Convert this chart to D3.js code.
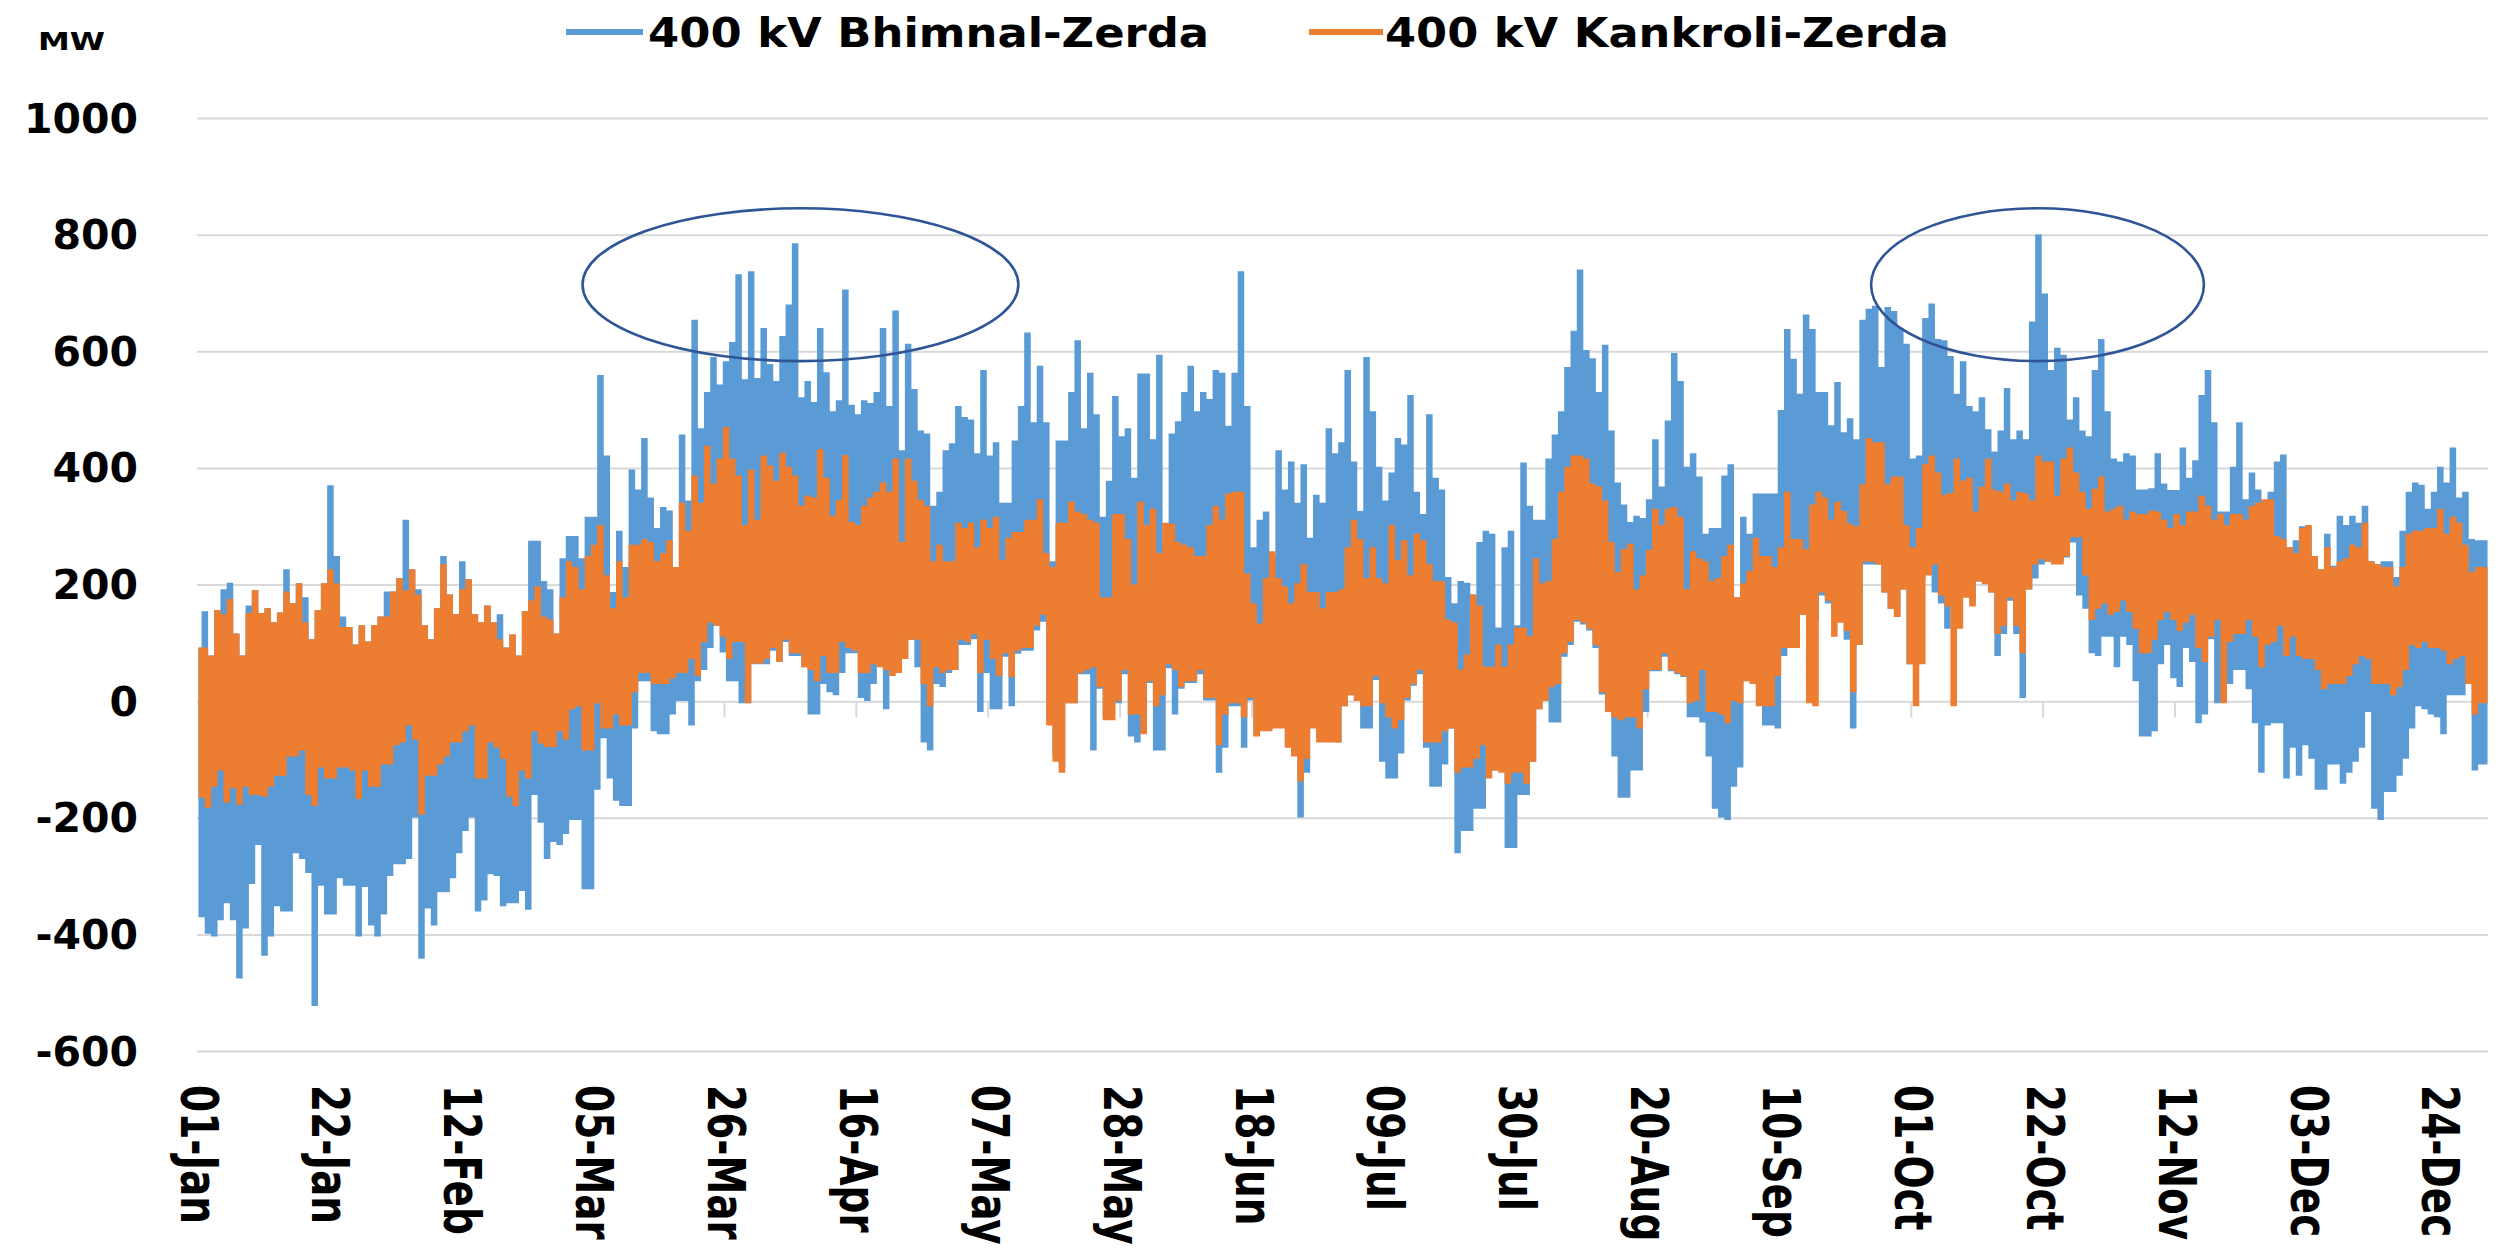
<!DOCTYPE html>
<html>
<head>
<meta charset="utf-8">
<script src="https://cdn.jsdelivr.net/npm/d3@7"></script>
<style>
  html, body { margin: 0; padding: 0; background: #ffffff; }
  svg { display: block; }
</style>
</head>
<body>
<svg id="chart" width="2509" height="1253"></svg>
<script>
// ---------------- DATA (daily high / low envelopes, MW) ----------------
const seriesNames = ["400 kV Bhimnal-Zerda", "400 kV Kankroli-Zerda"];
const yTicks = [-600, -400, -200, 0, 200, 400, 600, 800, 1000];
const xTickDays = [0, 21, 42, 63, 84, 105, 126, 147, 168, 189, 210, 231, 252, 273, 294, 315, 336, 357];
const xTickLabels = ["01-Jan", "22-Jan", "12-Feb", "05-Mar", "26-Mar", "16-Apr", "07-May", "28-May", "18-Jun",
  "09-Jul", "30-Jul", "20-Aug", "10-Sep", "01-Oct", "22-Oct", "12-Nov", "03-Dec", "24-Dec"];

const bhimnalHigh = [
  90,152,76,154,190,201,114,76,162,188, 149,157,133,150,224,166,200,176,104,154,
  200,368,247,143,125,95,128,100,128,143, 186,186,209,309,224,190,128,104,157,247,
  181,147,238,207,147,133,162,133,147,90, 112,76,152,273,273,204,190,114,243,281,
  281,243,314,314,557,419,185,290,228,395, 361,449,347,295,331,325,228,455,342,652,
  466,528,588,541,581,614,730,550,735,552, 638,576,547,624,678,783,519,547,511,638,
  562,495,514,704,506,490,514,509,528,638, 504,668,428,611,533,462,457,333,357,428,
  440,504,485,481,423,566,419,442,338,338, 445,504,630,476,573,476,238,445,445,528,
  617,466,561,490,314,376,521,452,466,381, 560,560,447,592,271,457,478,528,573,495,
  528,516,566,561,470,561,735,504,262,309, 323,247,428,361,409,338,404,278,352,338,
  466,423,442,566,409,324,588,495,400,342, 390,449,438,523,357,319,490,381,361,211,
  166,204,201,181,271,290,285,124,262,290, 128,407,333,309,309,414,455,495,571,633,
  738,600,586,528,609,462,373,335,305,316, 312,344,447,366,479,595,547,400,423,383,
  285,295,295,385,404,176,314,285,354,354, 354,354,497,636,585,525,661,636,528,528,
  471,545,459,483,447,652,671,676,571,674, 667,638,611,414,419,655,680,619,617,590,
  525,581,504,495,519,464,426,462,535,447, 462,447,649,798,697,566,604,592,481,519,
  462,452,566,619,495,414,409,423,419,361, 361,363,423,371,360,360,433,381,411,523,
  566,476,323,323,400,476,344,390,361,342, 357,409,421,262,274,298,298,247,224,285,
  230,316,300,316,304,333,238,228,238,238, 211,290,357,373,369,328,357,400,373,433,
  347,357,276,274,274
];
const bhimnalLow = [
  -367,-395,-400,-372,-343,-372,-472,-386,-310,-243, -433,-400,-348,-357,-357,-257,-267,-291,-519,-313,
  -362,-362,-300,-313,-313,-400,-315,-381,-400,-362, -296,-276,-276,-267,-196,-438,-352,-381,-324,-324,
  -300,-257,-219,-196,-357,-338,-293,-296,-348,-343, -343,-322,-354,-157,-205,-267,-238,-243,-224,-200,
  -200,-319,-319,-148,-60,-129,-167,-176,-176,-43, 38,38,-48,-53,-53,-19,4,4,-38,38,
  57,95,133,87,38,38,0,0,67,67, 67,90,71,105,81,81,62,-19,-19,33,
  19,14,52,86,86,9,4,33,67,-10, 57,52,76,109,62,-67,-81,33,28,52,
  57,100,100,110,-15,52,-10,-10,80,-5, 85,90,90,125,140,-30,-90,-110,0,0,
  50,50,-81,25,-25,24,0,50,-57,-67, -50,35,-81,-81,60,-19,25,35,35,50,
  5,5,-119,-76,-5,-5,-76,5,-55,-45, -45,-40,-40,-70,-85,-196,-119,-33,-60,-60,
  -60,-67,-5,14,4,-43,-43,40,-100,-129, -129,-86,5,30,50,-76,-143,-143,-105,-43,
  -257,-219,-219,-181,-181,-115,-115,-115,-248,-248, -157,-157,-100,-10,4,-33,-33,80,100,140,
  135,125,95,15,-15,-91,-162,-162,-115,-115, -15,55,55,80,55,50,45,-24,-24,-33,
  -91,-181,-196,-200,-143,-110,38,43,33,-38, -38,-43,81,95,95,152,143,143,185,171,
  162,143,109,-43,100,238,238,238,190,162, 148,195,67,171,214,238,190,171,128,176,
  209,204,171,209,209,190,81,119,176,119, 9,195,214,238,243,243,243,250,276,185,
  162,86,81,114,114,62,114,100,38,-57, -57,-48,67,100,43,28,95,71,-34,-19,
  110,0,4,33,57,57,24,-34,-119,-38, -34,-34,-129,-76,-124,-72,-95,-148,-148,-105,
  -105,-138,-119,-100,-76,-15,-181,-200,-152,-152, -124,-95,-43,-5,-10,-19,-24,-53,14,14,
  14,33,-115,-105,-105
];
const kankroliHigh = [
  90,90,76,154,147,173,114,76,149,188, 149,157,133,150,186,166,200,133,104,154,
  200,224,200,125,125,95,128,100,128,143, 143,186,209,188,224,181,128,104,157,233,
  181,147,190,207,147,133,162,133,104,90, 112,76,152,171,195,143,138,114,176,238,
  228,190,247,266,300,214,157,238,176,266, 266,276,271,238,252,274,228,338,290,385,
  338,436,371,414,468,414,385,300,395,309, 419,402,376,424,400,385,333,350,347,430,
  381,316,343,420,305,300,333,347,357,373, 357,414,271,414,376,343,333,238,266,238,
  238,304,295,304,262,309,295,314,240,278, 288,288,309,309,344,252,228,304,304,340,
  323,319,309,304,176,176,319,319,276,198, 340,300,328,252,304,302,271,266,262,247,
  247,300,333,309,354,357,357,217,166,131, 209,255,209,195,166,200,233,185,185,157,
  185,185,190,262,309,276,209,262,209,200, 300,240,274,214,285,274,233,204,204,138,
  133,52,78,181,162,57,57,95,57,95, 124,124,109,243,200,204,276,357,400,419,
  419,414,371,366,342,271,219,259,268,190, 214,257,328,300,328,331,314,190,255,243,
  238,204,209,247,266,176,200,221,278,247, 247,228,262,357,276,276,259,335,357,347,
  309,340,324,302,298,370,449,442,442,370, 383,383,300,262,295,404,419,390,352,355,
  414,376,381,323,366,414,361,357,371,342, 357,354,342,419,409,409,350,414,433,390,
  357,328,362,383,323,328,333,309,323,319, 319,325,323,309,295,319,300,323,323,350,
  333,309,319,300,319,319,309,333,338,344, 344,281,276,262,252,295,300,247,224,262,
  228,238,243,266,262,304,238,233,228,228, 195,228,285,290,290,295,295,328,285,314,
  304,266,219,228,228
];
const kankroliLow = [
  -162,-179,-143,-115,-170,-145,-174,-143,-157,-157, -160,-143,-124,-124,-91,-91,-81,-157,-176,-110,
  -129,-129,-110,-110,-115,-164,-115,-143,-143,-105, -105,-72,-67,-38,-62,-191,-124,-124,-105,-91,
  -67,-67,-48,-38,-129,-129,-67,-76,-95,-160, -176,-115,-129,-48,-69,-75,-75,-48,-62,-10,
  -5,-81,-81,0,-43,-43,-19,-38,-38,19, 52,52,33,33,33,43,52,52,76,47,
  105,138,133,114,76,105,105,0,68,68, 76,95,71,109,86,86,62,57,38,81,
  52,52,105,95,90,52,52,67,62,57, 47,52,76,109,109,33,-5,62,52,57,
  57,109,105,119,52,109,76,47,86,45, 90,95,95,133,152,-38,-100,-119,0,0,
  52,57,62,28,-29,-29,4,57,-19,-19, -53,38,-5,14,67,57,28,38,38,57,
  9,9,-72,-19,0,0,-24,9,-57,-48, -48,-43,-43,-76,-91,-134,-95,-43,-67,-67,
  -67,-67,-5,14,4,-5,-5,47,0,-24, -43,-29,9,33,57,-67,-67,-67,-48,-43,
  -119,-110,-110,-95,-72,-129,-115,-119,-138,-119, -119,-138,-100,-10,4,28,33,86,105,143,
  138,128,100,19,-15,-24,-29,-24,-24,-43, 24,57,57,86,57,52,47,0,4,57,
  -15,-15,-19,-34,4,0,38,33,-5,-5, -5,47,95,95,95,152,0,-5,190,176,
  114,138,124,19,100,243,243,238,190,162, 148,195,67,-5,67,219,238,185,166,-5,
  128,181,166,209,204,190,119,133,181,133, 86,195,238,247,243,238,238,252,285,285,
  219,143,162,171,152,157,176,157,128,86, 86,109,143,157,143,124,138,152,95,71,
  114,143,0,105,119,119,143,114,62,100, 105,133,81,114,81,76,76,57,24,33,
  33,33,47,67,81,76,33,33,33,14, 28,57,100,95,105,95,95,90,67,76,
  81,33,-19,0,0
];
// highlighted periods (annotation ellipses, in day / MW units)
const highlightDays = [96.1, 293.1];
const highlightHalfDays = [34.7, 26.5];
const highlightMW = [715, 715];
const highlightHalfMW = [131, 131];

// ---------------- DRAWING ----------------
const svg = d3.select("#chart");
const W = 2509, H = 1253;
svg.append("rect").attr("width", W).attr("height", H).attr("fill", "#ffffff");

const x = d3.scaleLinear().domain([0, 365]).range([197, 2489]);
const y = d3.scaleLinear().domain([-600, 1000]).range([1051.5, 118.5]);
const plotLeft = 197, plotRight = 2488;

const colors = ["#5b9bd5", "#ed7d31"];
const grid = "#d9d9d9";

// gridlines
svg.append("g").selectAll("line").data(yTicks).join("line")
  .attr("x1", plotLeft).attr("x2", plotRight)
  .attr("y1", d => y(d)).attr("y2", d => y(d))
  .attr("stroke", grid).attr("stroke-width", 2);

// y tick labels
svg.append("g").selectAll("text").data(yTicks).join("text")
  .attr("x", 138).attr("y", d => y(d))
  .attr("text-anchor", "end").attr("dominant-baseline", "central")
  .attr("font-family", "DejaVu Sans, Verdana, sans-serif")
  .attr("font-weight", "bold").attr("font-size", 41).attr("fill", "#000")
  .text(d => d);

// x axis tick marks at the zero line
svg.append("g").selectAll("line").data(xTickDays.slice(1)).join("line")
  .attr("x1", d => x(d)).attr("x2", d => x(d))
  .attr("y1", y(0)).attr("y2", y(0) + 16)
  .attr("stroke", grid).attr("stroke-width", 2);

// x tick labels (rotated, reading downward)
svg.append("g").selectAll("text").data(xTickDays).join("text")
  .attr("transform", d => `translate(${x(d) + 1},1085) scale(1.3,1) rotate(90)`)
  .attr("text-anchor", "start").attr("dominant-baseline", "central")
  .attr("font-family", "DejaVu Sans, Verdana, sans-serif")
  .attr("font-weight", "bold").attr("font-size", 39).attr("fill", "#000")
  .text((d, i) => xTickLabels[i]);

// series: daily high/low zig-zag drawn as a stepped line
function envelopePoints(hi, lo) {
  const pts = [];
  hi.forEach((h, i) => { pts.push([i + 0.25, h]); pts.push([i + 0.75, lo[i]]); });
  return pts;
}
const line = d3.line().x(p => x(p[0])).y(p => y(p[1])).curve(d3.curveStep);
const series = [[bhimnalHigh, bhimnalLow], [kankroliHigh, kankroliLow]];
series.forEach((s, k) => {
  svg.append("path")
    .attr("d", line(envelopePoints(s[0], s[1])))
    .attr("fill", "none").attr("stroke", colors[k])
    .attr("stroke-width", 3.4).attr("stroke-linejoin", "miter");
});

// annotation ellipses
svg.append("g").selectAll("ellipse").data(highlightDays).join("ellipse")
  .attr("cx", d => x(d))
  .attr("cy", (d, i) => y(highlightMW[i]))
  .attr("rx", (d, i) => x(d + highlightHalfDays[i]) - x(d))
  .attr("ry", (d, i) => y(highlightMW[i] - highlightHalfMW[i]) - y(highlightMW[i]))
  .attr("fill", "none").attr("stroke", "#2f5597").attr("stroke-width", 2.6);

// unit label
svg.append("text").attr("x", 38).attr("y", 50)
  .attr("font-family", "DejaVu Sans, Verdana, sans-serif")
  .attr("font-weight", "bold").attr("font-size", 25).attr("fill", "#000")
  .attr("textLength", 67).attr("lengthAdjust", "spacingAndGlyphs")
  .text("MW");

// legend
const legend = [
  { x1: 566, x2: 643, tx: 648, tl: 561 },
  { x1: 1309, x2: 1383, tx: 1385, tl: 564 }
];
legend.forEach((L, i) => {
  svg.append("line").attr("x1", L.x1).attr("x2", L.x2).attr("y1", 32).attr("y2", 32)
    .attr("stroke", colors[i]).attr("stroke-width", 6);
  svg.append("text").attr("x", L.tx).attr("y", 47)
    .attr("font-family", "DejaVu Sans, Verdana, sans-serif")
    .attr("font-weight", "bold").attr("font-size", 41).attr("fill", "#000")
    .attr("textLength", L.tl).attr("lengthAdjust", "spacingAndGlyphs")
    .text(seriesNames[i]);
});
</script>
</body>
</html>
